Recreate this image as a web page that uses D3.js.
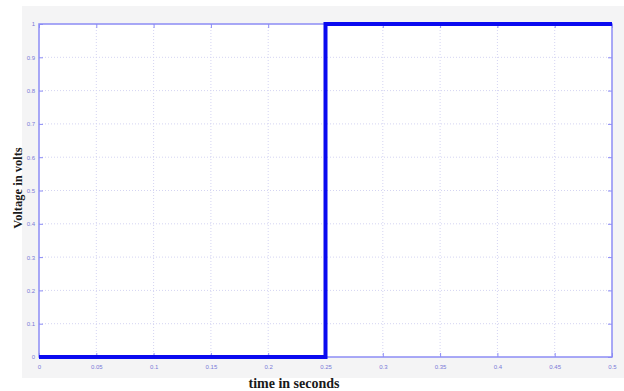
<!DOCTYPE html>
<html>
<head>
<meta charset="utf-8">
<script src="https://cdn.jsdelivr.net/npm/d3@7"></script>
<style>
  html, body { margin: 0; padding: 0; background: #ffffff; }
  svg { display: block; }
</style>
</head>
<body>
<svg id="chart" width="624" height="391"></svg>
<script>
// Unit step response: voltage switches from 0 V to 1 V at t = 0.25 s
const timeSeconds = [0, 0.25, 0.25, 0.5];
const voltageVolts = [0, 0, 1, 1];
const xTickValues = [0, 0.05, 0.1, 0.15, 0.2, 0.25, 0.3, 0.35, 0.4, 0.45, 0.5];
const xTickLabels = ["0", "0.05", "0.1", "0.15", "0.2", "0.25", "0.3", "0.35", "0.4", "0.45", "0.5"];
const yTickValues = [0, 0.1, 0.2, 0.3, 0.4, 0.5, 0.6, 0.7, 0.8, 0.9, 1];
const yTickLabels = ["0", "0.1", "0.2", "0.3", "0.4", "0.5", "0.6", "0.7", "0.8", "0.9", "1"];

const svg = d3.select("#chart");
const W = 624, H = 391;
const plot = { left: 39, top: 24, right: 612, bottom: 357 };

// figure background
svg.append("rect").attr("x", 22).attr("y", 6).attr("width", W - 22).attr("height", 372)
  .attr("fill", "#f4f4f5");
svg.append("rect").attr("x", plot.left).attr("y", plot.top)
  .attr("width", plot.right - plot.left).attr("height", plot.bottom - plot.top)
  .attr("fill", "#ffffff");

const x = d3.scaleLinear().domain([0, 0.5]).range([plot.left, plot.right]);
const y = d3.scaleLinear().domain([0, 1]).range([plot.bottom, plot.top]);

const axisColor = "#8c8cf5";
const labelColor = "#7a7ad8";
const gridColor = "#d4d4f2";

// grid
const grid = svg.append("g");
grid.selectAll("line.vx").data(xTickValues.slice(1, -1)).join("line")
  .attr("x1", d => x(d)).attr("x2", d => x(d))
  .attr("y1", plot.top).attr("y2", plot.bottom)
  .attr("stroke", gridColor).attr("stroke-width", 1).attr("stroke-dasharray", "1,2");
grid.selectAll("line.hy").data(yTickValues.slice(1, -1)).join("line")
  .attr("x1", plot.left).attr("x2", plot.right)
  .attr("y1", d => y(d)).attr("y2", d => y(d))
  .attr("stroke", gridColor).attr("stroke-width", 1).attr("stroke-dasharray", "1,2");

// axes with inward ticks
const xAxis = d3.axisBottom(x).tickValues(xTickValues)
  .tickFormat((d, i) => xTickLabels[i]).tickSizeInner(-4).tickSizeOuter(0).tickPadding(8);
const yAxis = d3.axisLeft(y).tickValues(yTickValues)
  .tickFormat((d, i) => yTickLabels[i]).tickSizeInner(-4).tickSizeOuter(0).tickPadding(4);

function styleAxis(g) {
  g.select(".domain").remove();
  g.selectAll(".tick line").attr("stroke", axisColor).attr("stroke-width", 1);
  g.selectAll(".tick text").attr("fill", labelColor)
    .style("font-family", "Arial, 'Liberation Sans', sans-serif").style("font-size", "6px");
}
svg.append("g").attr("transform", `translate(0,${plot.bottom})`).call(xAxis).call(styleAxis);
svg.append("g").attr("transform", `translate(${plot.left},0)`).call(yAxis).call(styleAxis);

// top / right tick marks
svg.append("g").attr("transform", `translate(0,${plot.top})`)
  .call(d3.axisTop(x).tickValues(xTickValues).tickFormat("").tickSizeInner(-4).tickSizeOuter(0))
  .call(styleAxis);
svg.append("g").attr("transform", `translate(${plot.right},0)`)
  .call(d3.axisRight(y).tickValues(yTickValues).tickFormat("").tickSizeInner(-4).tickSizeOuter(0))
  .call(styleAxis);

// box
svg.append("rect").attr("x", plot.left).attr("y", plot.top)
  .attr("width", plot.right - plot.left).attr("height", plot.bottom - plot.top)
  .attr("fill", "none").attr("stroke", axisColor).attr("stroke-width", 1.5);

// signal
const pts = timeSeconds.map((t, i) => [t, voltageVolts[i]]);
svg.append("path").datum(pts)
  .attr("d", d3.line().x(d => x(d[0])).y(d => y(d[1])))
  .attr("fill", "none").attr("stroke", "#0a0af0").attr("stroke-width", 4)
  .attr("stroke-linejoin", "miter");

// axis titles
svg.append("text").attr("x", 294).attr("y", 388).attr("text-anchor", "middle")
  .style("font-family", "'Liberation Serif', 'Times New Roman', serif")
  .style("font-weight", "bold").style("font-size", "14px").attr("fill", "#1a1a1a")
  .text("time in seconds");
svg.append("text").attr("transform", "translate(22,188) rotate(-90)")
  .attr("text-anchor", "middle")
  .style("font-family", "'Liberation Serif', 'Times New Roman', serif")
  .style("font-weight", "bold").style("font-size", "12.5px").attr("fill", "#1a1a1a")
  .text("Voltage in volts");
</script>
</body>
</html>
